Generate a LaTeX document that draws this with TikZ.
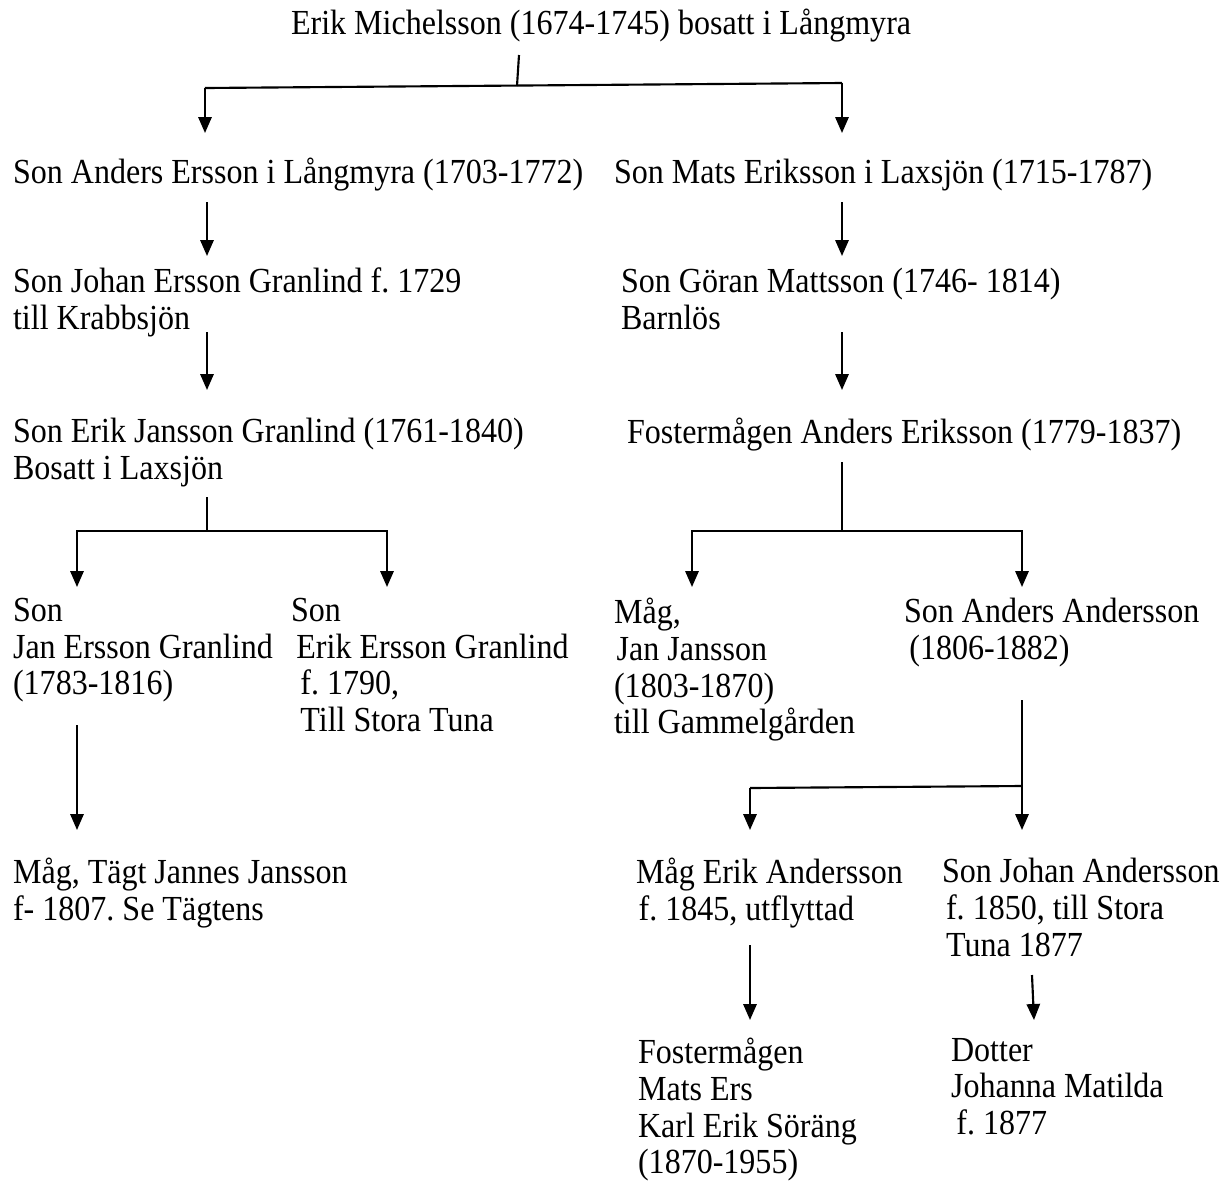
\documentclass[tikz,border=0pt]{standalone}
\usepackage{fontspec}
\setmainfont[FakeStretch=0.91]{Liberation Serif}
\usepackage{tikz}
\usetikzlibrary{arrows.meta}
\frenchspacing

\begin{document}
\begin{tikzpicture}[x=0.375pt,y=-0.375pt,line width=0.8pt]
\tikzstyle{every node}=[anchor=north west,inner sep=0pt,align=left,font=\fontsize{13.2}{13.8}\selectfont,execute at begin node=\strut];
\tikzstyle{arr}=[-{Triangle[width=5pt,length=6pt]}];
\useasboundingbox (0,0) rectangle (1230,1180);
\node (erik) at (290,8) {Erik Michelsson (1674-1745) bosatt i Långmyra};
\node (anders) at (12,157) {Son Anders Ersson i Långmyra (1703-1772)};
\node (mats) at (613,157) {Son Mats Eriksson i Laxsjön (1715-1787)};
\node (johan) at (12,267) {Son Johan Ersson Granlind f. 1729\\till Krabbsjön};
\node (goran) at (620,267) {Son Göran Mattsson (1746- 1814)\\Barnlös};
\node (erikj) at (12,417) {Son Erik Jansson Granlind (1761-1840)\\Bosatt i Laxsjön};
\node (foster) at (626,417) {Fostermågen Anders Eriksson (1779-1837)};
\node (jan) at (12,597) {Son\\Jan Ersson Granlind\\(1783-1816)};
\node (eriker) at (290,597) {Son\\\hspace{2pt}Erik Ersson Granlind\\\hspace{3.5pt}f. 1790,\\\hspace{3.5pt}Till Stora Tuna};
\node (mag) at (613,597) {Måg,\\\hspace{1pt}Jan Jansson\\(1803-1870)\\till Gammelgården};
\node (andersa) at (903,597) {Son Anders Andersson\\\hspace{2pt}(1806-1882)};
\node (tagt) at (12,857) {Måg, Tägt Jannes Jansson\\f- 1807. Se Tägtens};
\node (erika) at (635,857) {Måg Erik Andersson\\\hspace{1pt}f. 1845, utflyttad};
\node (johana) at (941,857) {Son Johan Andersson\\\hspace{1.5pt}f. 1850, till Stora\\\hspace{1.5pt}Tuna 1877};
\node (karl) at (637,1037) {Fostermågen\\Mats Ers\\Karl Erik Söräng\\(1870-1955)};
\node (dotter) at (950,1037) {Dotter\\Johanna Matilda\\\hspace{2pt}f. 1877};
\coordinate (e1) at (519,55);
\coordinate (e2) at (517,86);
\coordinate (bl) at (205,88);
\coordinate (br) at (842,83);
\coordinate (ej1) at (207,497);
\coordinate (ej2) at (207,531);
\coordinate (fa1) at (842,462);
\coordinate (fa2) at (842,531);
\coordinate (aa1) at (1022,700);
\coordinate (aa2) at (1022,786);
\coordinate (aa3) at (750,788);
\draw (e1) -- (e2);
\draw (bl) -- (br);
\draw[arr] (bl) -- (205,133);
\draw[arr] (br) -- (842,133);
\draw[arr] (207,202) -- (207,256);
\draw[arr] (842,202) -- (842,256);
\draw[arr] (207,332) -- (207,390);
\draw[arr] (842,332) -- (842,390);
\draw (ej1) -- (ej2);
\draw[arr] (ej2) -| (77,587);
\draw[arr] (ej2) -| (387,587);
\draw (fa1) -- (fa2);
\draw[arr] (fa2) -| (692,587);
\draw[arr] (fa2) -| (1022,587);
\draw[arr] (77,725) -- (77,830);
\draw[arr] (aa1) -- (1022,830);
\draw (aa2) -- (aa3);
\draw[arr] (aa3) -- (750,830);
\draw[arr] (750,945) -- (750,1020);
\draw[arr] (1032,975) -- (1034,1020);
\end{tikzpicture}
\end{document}
